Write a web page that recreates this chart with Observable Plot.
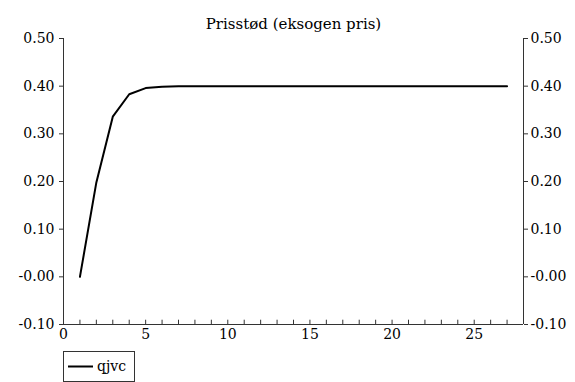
<!DOCTYPE html>
<html>
<head>
<meta charset="utf-8">
<script src="https://cdn.jsdelivr.net/npm/d3@7"></script>
<script src="https://cdn.jsdelivr.net/npm/@observablehq/plot@0.6"></script>
</head>
<body style="margin:0;background:#fff">
<div id="wrap" style="position:relative;width:575px;height:382px"></div>
<script>
const title = "Prisstød (eksogen pris)";
const seriesName = "qjvc";
const periods = [1,2,3,4,5,6,7,8,9,10,11,12,13,14,15,16,17,18,19,20,21,22,23,24,25,26,27];
const qjvc = [0.000,0.198,0.336,0.383,0.396,0.399,0.400,0.400,0.400,0.400,0.400,0.400,0.400,0.400,0.400,0.400,0.400,0.400,0.400,0.400,0.400,0.400,0.400,0.400,0.400,0.400,0.400];
const yTicks = [-0.1, 0, 0.1, 0.2, 0.3, 0.4, 0.5];
const xTicks = [0, 5, 10, 15, 20, 25];
const xMinor = d3.range(0, 29);

const data = periods.map((p, i) => ({x: p, y: qjvc[i]}));
const fmt = d => (Math.abs(d) < 1e-9 ? "-0.00" : d.toFixed(2));
const axisColor = "#333";
const FONT = "DejaVu Serif";

const chart = Plot.plot({
  width: 575,
  height: 350,
  marginLeft: 63,
  marginRight: 52,
  marginTop: 38,
  marginBottom: 26,
  style: {fontFamily: FONT, fontSize: "14px", color: "#000", background: "#fff", overflow: "visible"},
  x: {domain: [0, 28]},
  y: {domain: [-0.1, 0.5]},
  marks: [
    Plot.axisY({anchor: "left", ticks: yTicks, tickFormat: fmt, tickSize: 4, tickPadding: 5, label: null, stroke: axisColor, fontSize: 14, fontFamily: FONT}),
    Plot.axisY({anchor: "right", ticks: yTicks, tickFormat: fmt, tickSize: 4, tickPadding: 3, label: null, stroke: axisColor, fontSize: 14, fontFamily: FONT}),
    Plot.axisX({ticks: xTicks, tickSize: 0, tickPadding: 5, label: null, fontSize: 14, fontFamily: FONT}),
    Plot.ruleX(xMinor, {x: d => d, y1: -0.1, y2: -0.091, stroke: axisColor}),
    Plot.ruleX([0, 28], {stroke: axisColor}),
    Plot.ruleY([-0.1], {stroke: axisColor}),
    Plot.line(data, {x: "x", y: "y", stroke: "#000", strokeWidth: 2}),
    Plot.text([title], {frameAnchor: "top", dy: -20, fontSize: 15, fill: "#000", fontFamily: FONT})
  ]
});
const wrap = document.getElementById("wrap");
wrap.appendChild(chart);

// legend as a small SVG so that the serif font applies as in the chart
const lg = d3.create("svg")
  .attr("width", 72).attr("height", 31)
  .attr("style", "position:absolute;left:63px;top:351px;overflow:visible")
  .attr("font-family", FONT);
lg.append("rect").attr("x", 0.5).attr("y", 0.5).attr("width", 71).attr("height", 30)
  .attr("fill", "#fff").attr("stroke", axisColor);
lg.append("line").attr("x1", 5).attr("x2", 30).attr("y1", 15.5).attr("y2", 15.5)
  .attr("stroke", "#000").attr("stroke-width", 2);
lg.append("text").attr("x", 34).attr("y", 15.5).attr("dy", "0.32em")
  .attr("font-size", 14).attr("font-family", FONT).attr("fill", "#000").text(seriesName);
wrap.appendChild(lg.node());
</script>
</body>
</html>
